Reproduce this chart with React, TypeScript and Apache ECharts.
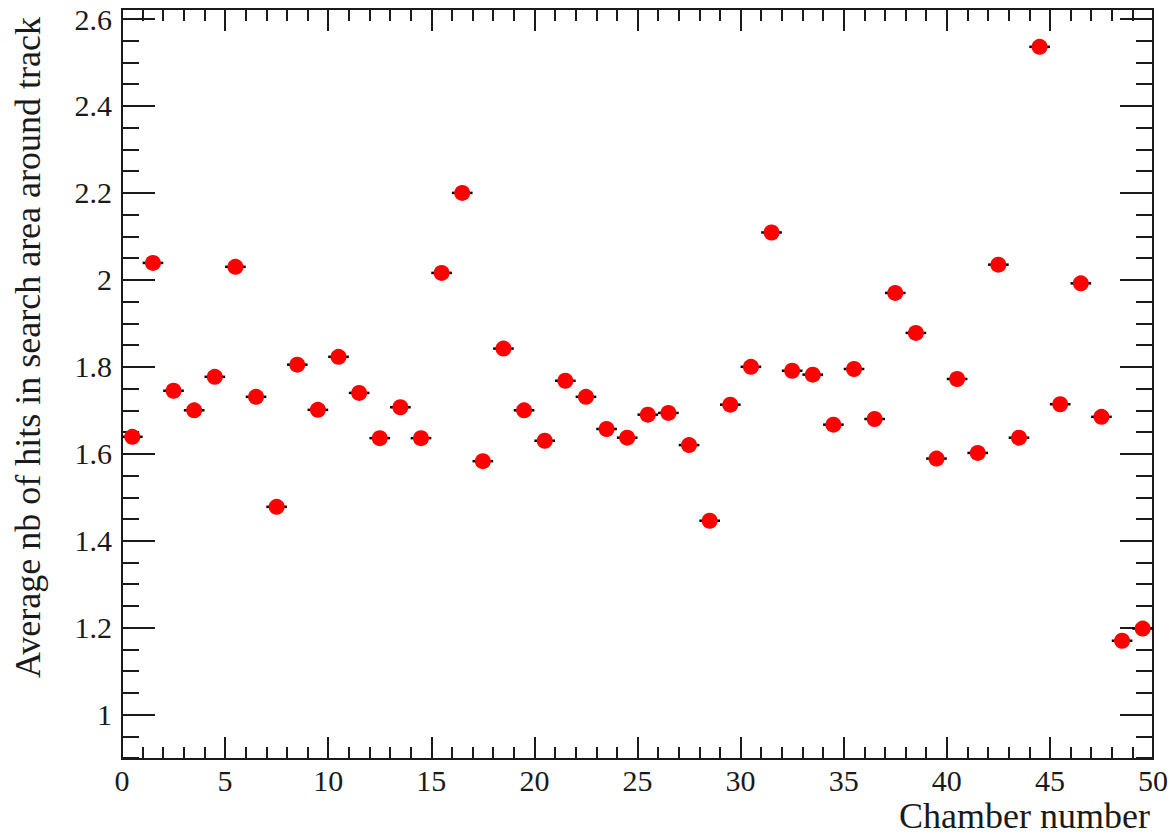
import React, { useEffect, useRef } from "react";
import * as echarts from "echarts";

// Chamber numbers (bin lower edges) and bin width
const chamberNumbers = [
  0, 1, 2, 3, 4, 5, 6, 7, 8, 9, 10, 11, 12, 13, 14, 15, 16, 17, 18, 19,
  20, 21, 22, 23, 24, 25, 26, 27, 28, 29, 30, 31, 32, 33, 34, 35, 36, 37, 38, 39,
  40, 41, 42, 43, 44, 45, 46, 47, 48, 49,
];
const binWidth = 1;

// Average number of hits in search area around track, per chamber
const avgHits = [
  1.639, 2.039, 1.745, 1.700, 1.777, 2.030, 1.731, 1.478, 1.805, 1.701,
  1.823, 1.740, 1.636, 1.707, 1.636, 2.016, 2.200, 1.583, 1.842, 1.700,
  1.630, 1.768, 1.731, 1.657, 1.637, 1.690, 1.694, 1.620, 1.446, 1.713,
  1.800, 2.109, 1.791, 1.782, 1.667, 1.795, 1.680, 1.970, 1.878, 1.589,
  1.772, 1.602, 2.035, 1.637, 2.536, 1.714, 1.992, 1.685, 1.170, 1.198,
];

const yTicks = [1, 1.2, 1.4, 1.6, 1.8, 2, 2.2, 2.4, 2.6];
const yMin = 0.898;
const yMax = 2.623;
const xMin = 0;
const xMax = 50;
const xTickStep = 5;

const xTitle = "Chamber number";
const yTitle = "Average nb of hits in search area around track";

const FONT = "'Liberation Serif', 'Times New Roman', serif";
const AXIS_COLOR = "#1a1a1a";

function minorYTicks(): number[] {
  const out: number[] = [];
  for (let k = 18; k <= 52; k++) {
    if (k % 4 !== 0) {
      const v = Math.round(k * 0.05 * 1000) / 1000;
      if (v >= yMin && v <= yMax) out.push(v);
    }
  }
  return out;
}

export default function App() {
  const ref = useRef<HTMLDivElement>(null);

  useEffect(() => {
    document.body.style.margin = "0";
    if (!ref.current) return;
    const chart = echarts.init(ref.current, undefined, { renderer: "svg" });

    const points = chamberNumbers.map((c, i) => [c + binWidth / 2, avgHits[i]]);
    const minors = minorYTicks();

    const lineStyle = { color: AXIS_COLOR, width: 2 };

    const baseY = {
      type: "value" as const,
      min: yMin,
      max: yMax,
      splitLine: { show: false },
      axisLine: { show: true, lineStyle },
    };

    const option: any = {
      animation: false,
      backgroundColor: "#ffffff",
      grid: { left: 122, right: 23, top: 9, bottom: 79, containLabel: false },
      xAxis: [
        {
          type: "value",
          min: xMin,
          max: xMax,
          interval: xTickStep,
          position: "bottom",
          splitLine: { show: false },
          axisLine: { show: true, onZero: false, lineStyle },
          axisTick: { show: true, inside: true, length: 22, lineStyle },
          minorTick: { show: true, splitNumber: 5, length: 12, lineStyle },
          axisLabel: {
            show: true,
            margin: 6,
            fontFamily: FONT,
            fontSize: 30,
            color: "#1a1a1a",
          },
        },
        {
          type: "value",
          min: xMin,
          max: xMax,
          interval: xTickStep,
          position: "top",
          splitLine: { show: false },
          axisLine: { show: true, onZero: false, lineStyle },
          axisTick: { show: true, inside: true, length: 22, lineStyle },
          minorTick: { show: true, splitNumber: 5, length: 12, lineStyle },
          axisLabel: { show: false },
        },
      ],
      yAxis: [
        {
          ...baseY,
          position: "left",
          axisTick: { show: true, inside: true, length: 33, lineStyle, customValues: yTicks },
          axisLabel: {
            show: true,
            customValues: yTicks,
            margin: 10,
            fontFamily: FONT,
            fontSize: 30,
            color: "#1a1a1a",
          },
        },
        {
          ...baseY,
          position: "left",
          axisTick: { show: true, inside: true, length: 17, lineStyle, customValues: minors },
          axisLabel: { show: false },
        },
        {
          ...baseY,
          position: "right",
          axisTick: { show: true, inside: true, length: 33, lineStyle, customValues: yTicks },
          axisLabel: { show: false },
        },
        {
          ...baseY,
          position: "right",
          axisTick: { show: true, inside: true, length: 17, lineStyle, customValues: minors },
          axisLabel: { show: false },
        },
      ],
      series: [
        {
          type: "custom",
          xAxisIndex: 0,
          yAxisIndex: 0,
          data: points,
          z: 2,
          renderItem: (_params: any, api: any) => {
            const x = api.value(0);
            const y = api.value(1);
            const p1 = api.coord([x - binWidth / 2, y]);
            const p2 = api.coord([x + binWidth / 2, y]);
            return {
              type: "line",
              shape: { x1: p1[0], y1: p1[1], x2: p2[0], y2: p2[1] },
              style: { stroke: "#000000", lineWidth: 2.5 },
            };
          },
        },
        {
          type: "scatter",
          xAxisIndex: 0,
          yAxisIndex: 0,
          data: points,
          symbol: "circle",
          symbolSize: 16,
          itemStyle: { color: "#ff0000", opacity: 1 },
          z: 3,
        },
      ],
      graphic: [
        {
          type: "text",
          x: 1150,
          y: 816,
          style: {
            text: xTitle,
            font: `36px ${FONT}`,
            fill: "#1a1a1a",
            align: "right",
            verticalAlign: "middle",
          },
        },
        {
          type: "text",
          x: 28,
          y: 17,
          rotation: Math.PI / 2,
          style: {
            text: yTitle,
            font: `36px ${FONT}`,
            fill: "#1a1a1a",
            align: "right",
            verticalAlign: "middle",
          },
        },
      ],
    };

    chart.setOption(option);
    return () => chart.dispose();
  }, []);

  return <div ref={ref} style={{ width: 1176, height: 838 }} />;
}
